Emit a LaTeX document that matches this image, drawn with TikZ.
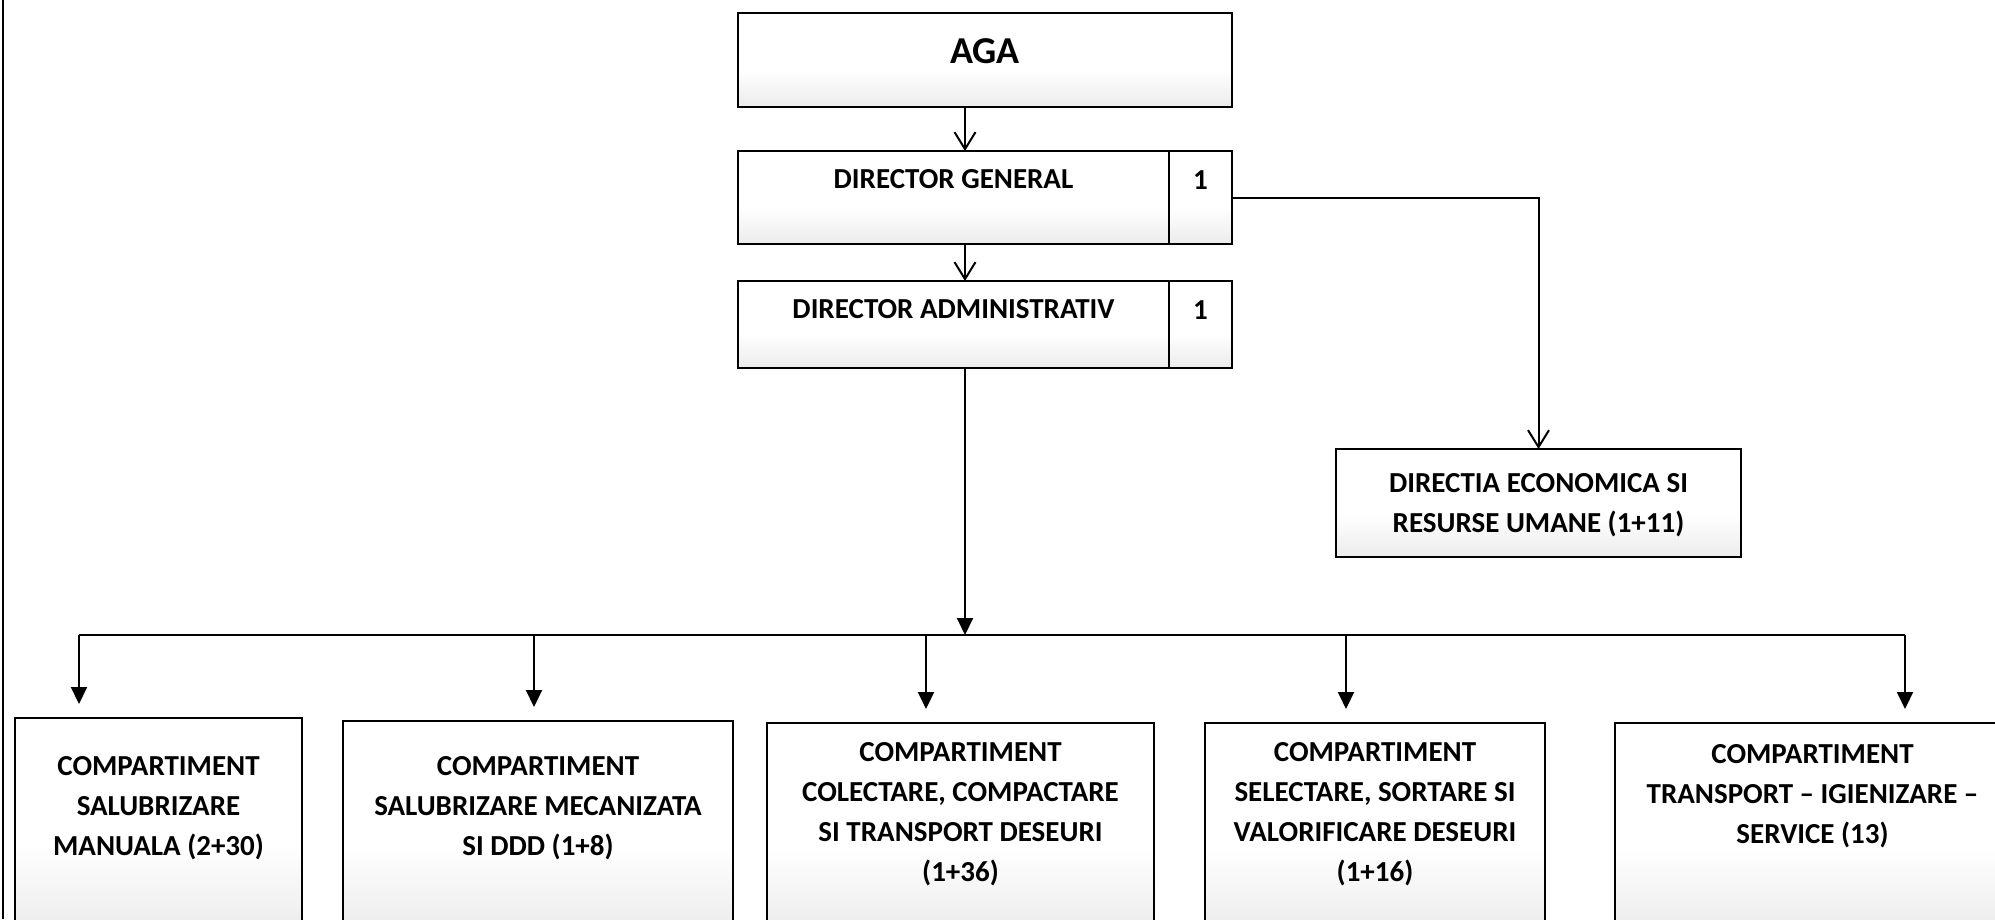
\documentclass[tikz,border=0pt]{standalone}
\usepackage{fontspec}
\setmainfont{Carlito}
\usetikzlibrary{arrows.meta, positioning, calc}
\pgfdeclareverticalshading{scanfade}{100bp}{color(0bp)=(black!17); color(45bp)=(white); color(100bp)=(white)}

\begin{document}
\begin{tikzpicture}[
    x=1pt, y=-1pt,
    node distance=0pt,
    box/.style={rectangle, draw, line width=2.6pt, outer sep=0pt, inner sep=0pt, shade, shading=scanfade},
    txt/.style={font=\fontsize{29}{40}\selectfont\bfseries, align=center, inner sep=0pt},
    openarrow/.style={-{Straight Barb[length=17pt, width=21pt]}, line width=2pt},
    fillarrow/.style={-{Triangle[length=17pt, width=16pt]}, line width=2pt}
  ]
    \useasboundingbox (0,0) rectangle (1995,919);
    \clip (0,0) rectangle (1995,919);
    \draw[line width=1.4pt] (3,0) -- (3,919);

    % upper part
    \node[box, minimum width=494pt, minimum height=94pt] (aga) at (985,60) {};
    \node[box, minimum width=431pt, minimum height=93pt] (dg) at (953.5,197.5) {};
    \node[box, minimum width=63pt, minimum height=93pt, right=of dg] (dgnum) {};
    \node[box, minimum width=431pt, minimum height=87pt] (da) at (953.5,324.5) {};
    \node[box, minimum width=63pt, minimum height=87pt, right=of da] (danum) {};
    \node[box, minimum width=405pt, minimum height=108pt] (ec) at (1538.5,503) {};

    \node[txt, font=\fontsize{38}{46}\selectfont\bfseries] (agatxt) at ($(aga.north)+(0,38)$) {AGA};
    \node[txt] (dgtxt) at ($(dg.north)+(0,28)$) {DIRECTOR GENERAL};
    \node[txt] (dgnumtxt) at ($(dgnum.north)+(0,29)$) {1};
    \node[txt] (datxt) at ($(da.north)+(0,28)$) {DIRECTOR ADMINISTRATIV};
    \node[txt] (danumtxt) at ($(danum.north)+(0,29)$) {1};
    \node[txt, anchor=north] (ectxt) at ($(ec.north)+(0,24)$) {DIRECTIA ECONOMICA SI\\RESURSE UMANE (1+11)};

    % compartimente
    \node[box, minimum width=287pt, minimum height=212pt] (c1) at (158.5,824) {};
    \node[box, minimum width=390pt, minimum height=209pt] (c2) at (538,825.5) {};
    \node[box, minimum width=387pt, minimum height=207pt] (c3) at (960.5,826.5) {};
    \node[box, minimum width=340pt, minimum height=207pt] (c4) at (1375,826.5) {};
    \node[box, minimum width=395pt, minimum height=207pt] (c5) at (1812.5,826.5) {};

    \node[txt, anchor=north] (c1txt) at ($(c1.north)+(0,38)$) {COMPARTIMENT\\SALUBRIZARE\\MANUALA (2+30)};
    \node[txt, anchor=north] (c2txt) at ($(c2.north)+(0,35)$) {COMPARTIMENT\\SALUBRIZARE MECANIZATA\\SI DDD (1+8)};
    \node[txt, anchor=north] (c3txt) at ($(c3.north)+(0,19)$) {COMPARTIMENT\\COLECTARE, COMPACTARE\\SI TRANSPORT DESEURI\\(1+36)};
    \node[txt, anchor=north] (c4txt) at ($(c4.north)+(0,19)$) {COMPARTIMENT\\SELECTARE, SORTARE SI\\VALORIFICARE DESEURI\\(1+16)};
    \node[txt, anchor=north] (c5txt) at ($(c5.north)+(0,21)$) {COMPARTIMENT\\TRANSPORT \textendash{} IGIENIZARE \textendash\\SERVICE (13)};

    % connectors
    \coordinate (spine) at (965,0);
    \coordinate (d1) at (79,635);
    \coordinate (d2) at (534,635);
    \coordinate (d3) at (926,635);
    \coordinate (d4) at (1346,635);
    \coordinate (d5) at (1905,635);

    \draw[openarrow] (aga.south -| spine) -- (dg.north -| spine);
    \draw[openarrow] (dg.south -| spine) -- (da.north -| spine);
    \draw[openarrow] (dgnum.east) -| (ec.north);
    \draw[fillarrow] (da.south -| spine) -- (spine |- d1);
    \draw[line width=2pt] (d1) -- (d5);
    \draw[fillarrow, shorten >=14pt] (d1) -- (d1 |- c1.north);
    \draw[fillarrow, shorten >=14pt] (d2) -- (d2 |- c2.north);
    \draw[fillarrow, shorten >=14pt] (d3) -- (d3 |- c3.north);
    \draw[fillarrow, shorten >=14pt] (d4) -- (d4 |- c4.north);
    \draw[fillarrow, shorten >=14pt] (d5) -- (d5 |- c5.north);
  \end{tikzpicture}
\end{document}
